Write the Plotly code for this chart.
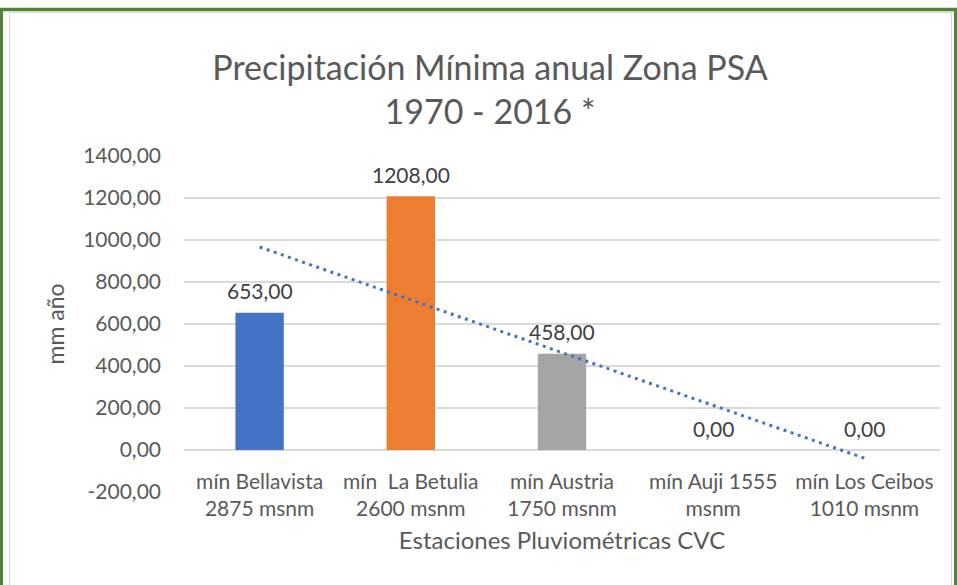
import numpy as np
import plotly.graph_objects as go

categories = ["mín Bellavista<br>2875 msnm", "mín  La Betulia<br>2600 msnm",
              "mín Austria<br>1750 msnm", "mín Auji 1555<br>msnm",
              "mín Los Ceibos<br>1010 msnm"]
values = [653.0, 1208.0, 458.0, 0.0, 0.0]
bar_colors = ["#4472C4", "#ED7D31", "#A5A5A5", "#FFC000", "#5B9BD5"]
y_ticks = [-200, 0, 200, 400, 600, 800, 1000, 1200, 1400]
y_tick_labels = ["-200,00", "0,00", "200,00", "400,00", "600,00", "800,00",
                 "1000,00", "1200,00", "1400,00"]

# linear trendline (least squares over category index), as Excel does
xi = np.arange(1, len(values) + 1)
slope, intercept = np.polyfit(xi, values, 1)
trend = list(slope * xi + intercept)

FONT = "Lato"
W, H = 957, 585
ml, mr, mt, mb = 184, 17, 156, 93
PW, PH = W - ml - mr, H - mt - mb
ymin, ymax = -200, 1400
zero_pos = (0 - ymin) / (ymax - ymin)


def px_x(x):
    return (x - ml) / PW


def px_y(y):
    return (H - mb - y) / PH


fig = go.Figure()
fig.add_trace(go.Bar(
    x=categories, y=values, marker=dict(color=bar_colors, line=dict(width=0)),
    width=0.32, showlegend=False, hoverinfo="skip"))
fig.add_trace(go.Scatter(
    x=categories, y=trend, mode="lines",
    line=dict(color="#4472C4", width=3, dash="3px,4.5px"),
    showlegend=False, hoverinfo="skip"))

for c, v in zip(categories, values):
    fig.add_annotation(x=c, y=v, text=f"{v:.2f}".replace(".", ","), showarrow=False,
                       yanchor="middle", yshift=22,
                       font=dict(family=FONT, size=21, color="#404040"))

fig.update_layout(
    width=W, height=H, margin=dict(l=ml, r=mr, t=mt, b=mb),
    paper_bgcolor="white", plot_bgcolor="white", separators=",.",
    font=dict(family=FONT, color="#595959"),
    title=dict(text="Precipitación Mínima anual Zona PSA<br>1970 - 2016 *",
               x=490 / W, xanchor="center", xref="container", yref="container",
               y=1 - 80 / H, yanchor="middle",
               font=dict(family=FONT, size=34, color="#595959")),
    xaxis=dict(anchor="free", position=zero_pos, showline=False, showgrid=False,
               ticks="", ticklabelstandoff=17,
               tickfont=dict(family=FONT, size=21, color="#595959"),
               title=dict(text="Estaciones Pluviométricas CVC", standoff=12,
                          font=dict(family=FONT, size=24, color="#595959"))),
    yaxis=dict(range=[ymin, ymax], tickvals=y_ticks, ticktext=y_tick_labels,
               showgrid=True, gridcolor="#D9D9D9", gridwidth=1.5,
               zeroline=True, zerolinecolor="#D9D9D9", zerolinewidth=1.5,
               showline=False, ticks="", ticklabelstandoff=22,
               tickfont=dict(family=FONT, size=21, color="#595959"),
               title=dict(text="mm año", standoff=12,
                          font=dict(family=FONT, size=23, color="#595959"))),
    shapes=[
        dict(type="rect", xref="paper", yref="paper", x0=px_x(9.5), x1=px_x(951.5),
             y0=px_y(600), y1=px_y(12.5), line=dict(color="#D9D9D9", width=1)),
        dict(type="line", xref="paper", yref="paper", x0=px_x(0), x1=px_x(957),
             y0=px_y(9.5), y1=px_y(9.5), line=dict(color="#538135", width=3.5)),
        dict(type="line", xref="paper", yref="paper", x0=px_x(1.5), x1=px_x(1.5),
             y0=px_y(600), y1=px_y(8), line=dict(color="#538135", width=3)),
        dict(type="line", xref="paper", yref="paper", x0=px_x(955.5), x1=px_x(955.5),
             y0=px_y(600), y1=px_y(8), line=dict(color="#538135", width=3)),
    ],
)

fig.write_html("out.html", config={"displayModeBar": False},
               post_script="document.body.style.margin='0';")
